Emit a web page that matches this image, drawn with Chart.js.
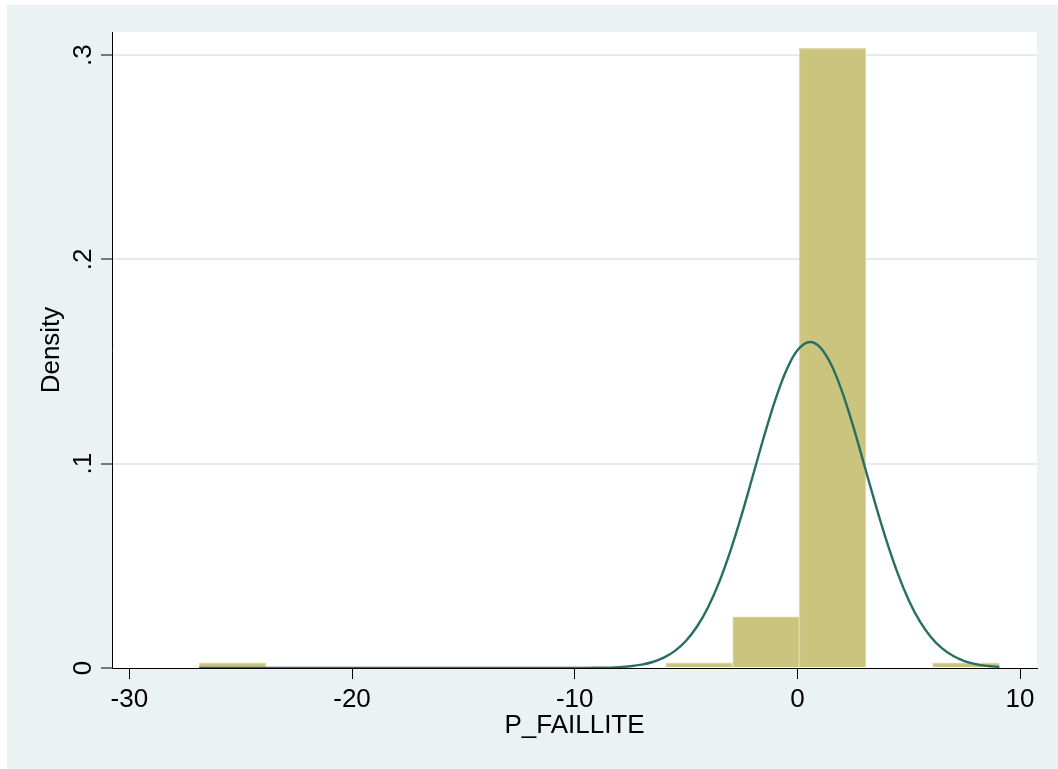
<!DOCTYPE html>
<html>
<head>
<meta charset="utf-8">
<script src="https://cdn.jsdelivr.net/npm/chart.js@4.4.1/dist/chart.umd.min.js"></script>
<style>
  html, body { margin: 0; padding: 0; background: #ffffff; }
  canvas { display: block; }
</style>
</head>
<body>
<canvas id="c" width="1058" height="769"></canvas>
<script>
// Histogram bins (centres) and density heights
const binCenters = [-25.37, -22.38, -19.38, -16.39, -13.39, -10.40, -7.40, -4.41, -1.41, 1.58, 4.58, 7.57];
const binDensity = [0.0025, 0, 0, 0, 0, 0, 0, 0.0025, 0.0251, 0.3033, 0, 0.0025];

// Overlaid normal density curve
const curveX = [-26.87, -20, -15, -12, -10, -9, -8, -7.5, -7, -6.5, -6, -5.5, -5, -4.5, -4, -3.5, -3, -2.5, -2, -1.5, -1, -0.5, 0, 0.57, 1, 1.5, 2, 2.5, 3, 3.5, 4, 4.5, 5, 5.5, 6, 6.5, 7, 7.5, 8, 8.5, 9.07];
const curveY = [0, 0, 0, 0.000001, 0.000021, 0.000105, 0.00045, 0.00087, 0.00163, 0.00293, 0.00505, 0.00837, 0.01333, 0.02042, 0.03002, 0.04241, 0.05756, 0.07508, 0.09409, 0.1133, 0.1310, 0.1456, 0.1555, 0.1596, 0.1572, 0.1489, 0.1355, 0.1185, 0.0995, 0.0803, 0.0623, 0.0464, 0.0332, 0.0228, 0.0151, 0.00958, 0.00584, 0.00342, 0.00193, 0.00104, 0.00049];

// Axis ticks and labels
const xTickValues = [-30, -20, -10, 0, 10];
const yTickValues = [0, 0.1, 0.2, 0.3];
const yTickLabels = ['0', '.1', '.2', '.3'];
const xTitle = 'P_FAILLITE';
const yTitle = 'Density';

const FONT = '"Liberation Sans", Arial, Helvetica, sans-serif';

const bgPlugin = {
  id: 'bg',
  beforeDraw(chart) {
    const ctx = chart.ctx, a = chart.chartArea;
    ctx.save();
    ctx.fillStyle = '#ffffff';
    ctx.fillRect(0, 0, chart.width, chart.height);
    ctx.fillStyle = '#eaf2f3';
    ctx.fillRect(7, 5, chart.width - 7, chart.height - 5);
    ctx.fillStyle = '#ffffff';
    ctx.fillRect(a.left, a.top, a.right - a.left, a.bottom - a.top);
    ctx.restore();
  }
};

const yLabelPlugin = {
  id: 'yLabels',
  afterDraw(chart) {
    const ctx = chart.ctx, ys = chart.scales.y;
    ctx.save();
    ctx.fillStyle = '#000000';
    ctx.font = '26px ' + FONT;
    ctx.textAlign = 'center';
    ctx.textBaseline = 'alphabetic';
    yTickValues.forEach((v, i) => {
      const py = ys.getPixelForValue(v);
      ctx.save();
      ctx.translate(90.5, py);
      ctx.rotate(-Math.PI / 2);
      ctx.fillText(yTickLabels[i], 0, 0);
      ctx.restore();
    });
    ctx.restore();
  }
};

new Chart(document.getElementById('c'), {
  type: 'bar',
  data: {
    datasets: [
      {
        type: 'line',
        order: 0,
        data: curveX.map((x, i) => ({ x: x, y: curveY[i] })),
        borderColor: '#276e63',
        borderWidth: 2.4,
        pointRadius: 0,
        fill: false,
        cubicInterpolationMode: 'monotone'
      },
      {
        type: 'bar',
        order: 1,
        data: binCenters.map((x, i) => ({ x: x, y: binDensity[i] })),
        backgroundColor: '#cac47f',
        borderColor: '#dcd8ab',
        borderWidth: 1.2,
        borderSkipped: 'start',
        barPercentage: 1,
        categoryPercentage: 1
      }
    ]
  },
  options: {
    responsive: false,
    animation: false,
    layout: { padding: { left: 7, top: 32, right: 21, bottom: 0 } },
    plugins: { legend: { display: false }, tooltip: { enabled: false } },
    scales: {
      x: {
        type: 'linear',
        min: -30.78,
        max: 10.76,
        offset: false,
        afterBuildTicks(s) { s.ticks = xTickValues.map(v => ({ value: v })); },
        afterFit(s) { s.height = 101; },
        border: { display: true, color: '#000000', width: 1 },
        grid: { offset: false, drawOnChartArea: false, drawTicks: true, tickLength: 11, tickColor: '#000000', tickWidth: 1 },
        ticks: { color: '#000000', font: { family: FONT, size: 26 }, padding: 5, maxRotation: 0, minRotation: 0,
                 callback: v => String(v) },
        title: { display: true, text: xTitle, color: '#000000', font: { family: FONT, size: 26 }, padding: { top: 0, bottom: 28 } }
      },
      y: {
        type: 'linear',
        min: 0,
        max: 0.3113,
        afterBuildTicks(s) { s.ticks = yTickValues.map(v => ({ value: v })); },
        afterFit(s) { s.width = 105; },
        border: { display: true, color: '#000000', width: 1 },
        grid: {
          offset: false, drawOnChartArea: true, drawTicks: true, tickLength: 11, tickColor: '#000000', tickWidth: 1,
          color: c => (c.tick && c.tick.value === 0) ? 'rgba(0,0,0,0)' : '#e3edef',
          lineWidth: 2
        },
        ticks: { color: 'rgba(0,0,0,0)', font: { family: FONT, size: 26 } },
        title: { display: true, text: yTitle, color: '#000000', font: { family: FONT, size: 26 }, padding: { top: 29, bottom: 0 } }
      }
    }
  },
  plugins: [bgPlugin, yLabelPlugin]
});
</script>
</body>
</html>
